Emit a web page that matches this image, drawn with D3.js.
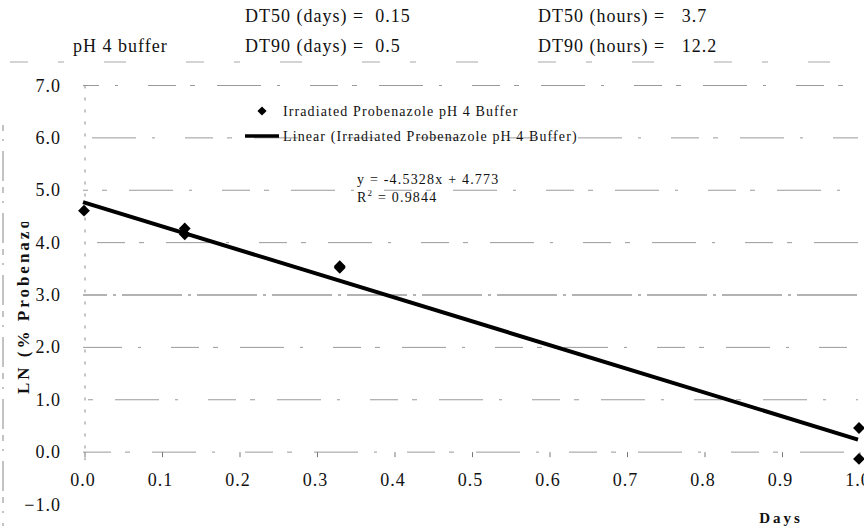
<!DOCTYPE html>
<html>
<head>
<meta charset="utf-8">
<script src="https://cdn.jsdelivr.net/npm/d3@7"></script>
<style>
  body { margin: 0; background: #fff; }
</style>
</head>
<body>
<div id="chart"></div>
<script>
// sampled photolysis points (days vs LN of % probenazole remaining)
const days = [0.0, 0.13, 0.13, 0.33, 0.33, 1.0, 1.0];
const lnProb = [4.61, 4.27, 4.16, 3.55, 3.52, 0.46, -0.13];
const yTicks = [-1, 0, 1, 2, 3, 4, 5, 6, 7];
const xTicks = [0, 0.1, 0.2, 0.3, 0.4, 0.5, 0.6, 0.7, 0.8, 0.9, 1.0];
const slope = -4.5328;
const intercept = 4.773;
const headerLines = [
  ["DT50 (days) =  0.15", "DT50 (hours) =   3.7"],
  ["DT90 (days) =  0.5", "DT90 (hours) =   12.2"]
];

var width = 864, height = 526;
var svg = d3.select("#chart").append("svg")
  .attr("width", width).attr("height", height)
  .attr("font-family", "'Liberation Serif', 'DejaVu Serif', serif")
  .attr("fill", "#111");

var x = d3.scaleLinear().domain([0, 1]).range([83, 858]);
var y = d3.scaleLinear().domain([-1, 7]).range([504.5, 85.5]);

// scanned-looking frame bits
svg.append("line").attr("x1", 10).attr("x2", 860).attr("y1", 62).attr("y2", 62)
  .attr("stroke", "#aaa").attr("stroke-dasharray", "18,30,6,40,22,60");
svg.append("line").attr("x1", 3).attr("x2", 3).attr("y1", 125).attr("y2", 545)
  .attr("stroke", "#888").attr("stroke-dasharray", "6,8,2,10,30,6");

// gridlines
var grid = svg.append("g");
yTicks.filter(d => d >= 0).forEach((d, i) => {
  grid.append("line")
    .attr("x1", x(0)).attr("x2", x(1))
    .attr("y1", y(d)).attr("y2", y(d))
    .attr("stroke", d === 3 ? "#666" : "#9a9a9a")
    .attr("stroke-width", 1)
    .attr("stroke-dasharray", d === 3 ? "60,6,3,6" : "28,14,5,22,44,16,3,30")
    .attr("stroke-dashoffset", i * 37);
});

// vertical axis line
svg.append("line").attr("x1", x(0) + 2).attr("x2", x(0) + 2)
  .attr("y1", y(7)).attr("y2", y(0) + 8)
  .attr("stroke", "#888").attr("stroke-dasharray", "3,9");

// y tick labels
svg.append("g").selectAll("text").data(yTicks).join("text")
  .attr("x", 61).attr("y", d => y(d) + 6)
  .attr("text-anchor", "end")
  .style("font-size", "18px").style("letter-spacing", "1px")
  .text(d => d3.format(".1f")(d));

// x ticks + labels
var xg = svg.append("g");
xg.selectAll("line").data(xTicks).join("line")
  .attr("x1", d => x(d) + 2).attr("x2", d => x(d) + 2)
  .attr("y1", y(0)).attr("y2", y(0) + 5)
  .attr("stroke", "#777");
xg.selectAll("text").data(xTicks).join("text")
  .attr("x", d => x(d)).attr("y", 486)
  .attr("text-anchor", "middle")
  .style("font-size", "18px").style("letter-spacing", "1px")
  .text(d => d3.format(".1f")(d));

// axis titles
svg.append("text").attr("x", 781).attr("y", 523)
  .attr("text-anchor", "middle")
  .style("font-size", "15px").style("font-weight", "bold").style("letter-spacing", "3px")
  .text("Days");

svg.append("clipPath").attr("id", "yclip")
  .append("rect").attr("x", 0).attr("y", 222).attr("width", 40).attr("height", 200);
svg.append("g").attr("clip-path", "url(#yclip)")
  .append("text")
  .attr("transform", "translate(29,394) rotate(-90)")
  .style("font-size", "17px").style("font-weight", "bold").style("letter-spacing", "3px")
  .text("LN (% Probenazole)");

// header texts
svg.append("text").attr("x", 73).attr("y", 52)
  .style("font-size", "18px").style("letter-spacing", "1px").text("pH 4 buffer");
headerLines.forEach((row, i) => {
  svg.append("text").attr("x", 245).attr("y", 22 + i * 30)
    .style("font-size", "18px").style("letter-spacing", "1px").style("white-space", "pre")
    .text(row[0]);
  svg.append("text").attr("x", 538).attr("y", 22 + i * 30)
    .style("font-size", "18px").style("letter-spacing", "1px").style("white-space", "pre")
    .text(row[1]);
});

// trend line
var line = d3.line().x(d => x(d)).y(d => y(slope * d + intercept));
svg.append("path").datum([0, 1])
  .attr("d", line)
  .attr("fill", "none").attr("stroke", "#000").attr("stroke-width", 4);

// points
var diamond = d3.symbol().type(d3.symbolSquare).size(70);
svg.append("g").selectAll("path").data(days.map((d, i) => [d, lnProb[i]])).join("path")
  .attr("d", diamond)
  .attr("transform", d => `translate(${x(d[0]) + 1},${y(d[1])}) rotate(45)`)
  .attr("fill", "#000");

// legend
var lg = svg.append("g");
lg.append("path").attr("d", d3.symbol().type(d3.symbolSquare).size(42))
  .attr("transform", "translate(262,111) rotate(45)").attr("fill", "#000");
lg.append("line").attr("x1", 245).attr("x2", 279).attr("y1", 136).attr("y2", 136)
  .attr("stroke", "#000").attr("stroke-width", 3.5);
lg.append("text").attr("x", 283).attr("y", 116)
  .style("font-size", "14px").style("letter-spacing", "1.1px")
  .text("Irradiated Probenazole pH 4 Buffer");
lg.append("text").attr("x", 283).attr("y", 141)
  .style("font-size", "14px").style("letter-spacing", "1.1px")
  .text("Linear (Irradiated Probenazole pH 4 Buffer)");

// regression text
var eq = svg.append("text").attr("x", 357).attr("y", 184)
  .style("font-size", "14px").style("letter-spacing", "1.2px");
eq.text("y = " + slope + "x + " + intercept);
var r2 = svg.append("text").attr("x", 357).attr("y", 202)
  .style("font-size", "14px").style("letter-spacing", "1.2px");
r2.append("tspan").text("R");
r2.append("tspan").attr("dy", -6).style("font-size", "9px").text("2");
r2.append("tspan").attr("dy", 6).text(" = 0.9844");
</script>
</body>
</html>
